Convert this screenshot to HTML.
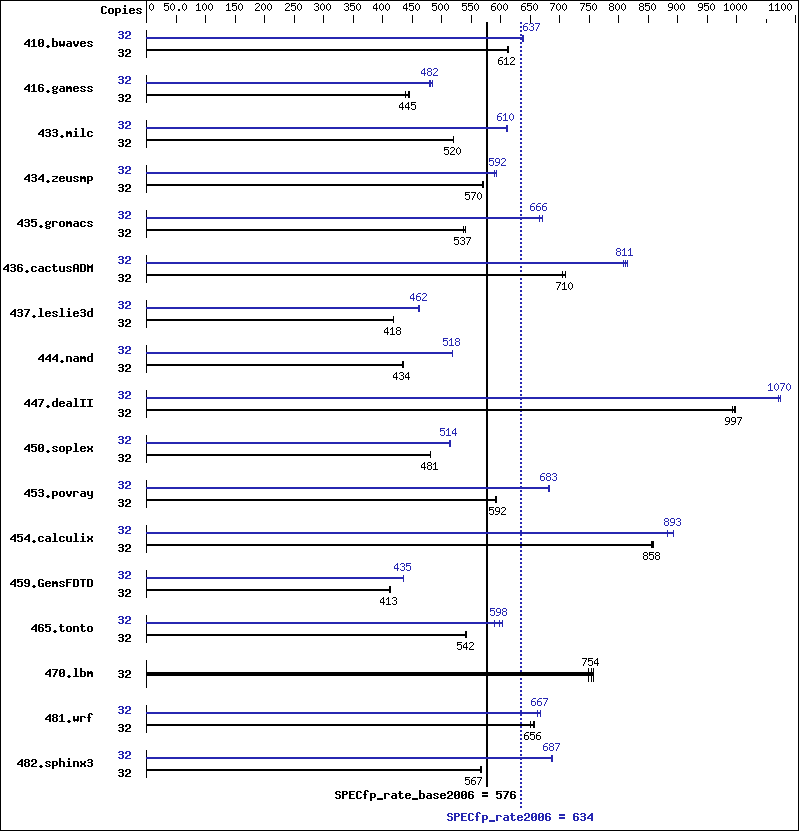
<!DOCTYPE html>
<html lang="en">
<head>
<meta charset="utf-8">
<title>SPECfp_rate2006 result chart</title>
<style>
html,body{margin:0;padding:0;background:#fff;}
body{width:799px;height:831px;overflow:hidden;font-family:"Liberation Sans",sans-serif;}
svg{display:block;position:absolute;left:0;top:0;}
.t text{fill:transparent;stroke:none;}
.s{font-family:"Liberation Sans",sans-serif;font-size:11px;}
.b{font-family:"Liberation Mono",monospace;font-size:11.67px;font-weight:bold;}
</style>
</head>
<body>
<svg width="799" height="831" viewBox="0 0 799 831" shape-rendering="crispEdges" role="img" aria-label="SPECfp_rate2006 benchmark chart">
<rect width="799" height="831" fill="#fff"/>
<defs>
<path id="s46" d="M2 9h2v1h-2zM2 10h2v1h-2z"/>
<path id="s48" d="M2 3h1v1h-1zM1 4h1v1h-1zM3 4h1v1h-1zM0 5h1v1h-1zM4 5h1v1h-1zM0 6h1v1h-1zM4 6h1v1h-1zM0 7h1v1h-1zM4 7h1v1h-1zM0 8h1v1h-1zM4 8h1v1h-1zM1 9h1v1h-1zM3 9h1v1h-1zM2 10h1v1h-1z"/>
<path id="s49" d="M2 3h1v1h-1zM1 4h2v1h-2zM0 5h1v1h-1zM2 5h1v1h-1zM2 6h1v1h-1zM2 7h1v1h-1zM2 8h1v1h-1zM2 9h1v1h-1zM0 10h5v1h-5z"/>
<path id="s50" d="M1 3h3v1h-3zM0 4h1v1h-1zM4 4h1v1h-1zM4 5h1v1h-1zM3 6h1v1h-1zM2 7h1v1h-1zM1 8h1v1h-1zM0 9h1v1h-1zM0 10h5v1h-5z"/>
<path id="s51" d="M1 3h3v1h-3zM0 4h1v1h-1zM4 4h1v1h-1zM4 5h1v1h-1zM2 6h2v1h-2zM4 7h1v1h-1zM4 8h1v1h-1zM0 9h1v1h-1zM4 9h1v1h-1zM1 10h3v1h-3z"/>
<path id="s52" d="M3 3h1v1h-1zM2 4h2v1h-2zM1 5h1v1h-1zM3 5h1v1h-1zM0 6h1v1h-1zM3 6h1v1h-1zM0 7h1v1h-1zM3 7h1v1h-1zM0 8h5v1h-5zM3 9h1v1h-1zM3 10h1v1h-1z"/>
<path id="s53" d="M0 3h5v1h-5zM0 4h1v1h-1zM0 5h4v1h-4zM0 6h1v1h-1zM4 6h1v1h-1zM4 7h1v1h-1zM4 8h1v1h-1zM0 9h1v1h-1zM4 9h1v1h-1zM1 10h3v1h-3z"/>
<path id="s54" d="M2 3h3v1h-3zM1 4h1v1h-1zM0 5h1v1h-1zM0 6h4v1h-4zM0 7h1v1h-1zM4 7h1v1h-1zM0 8h1v1h-1zM4 8h1v1h-1zM0 9h1v1h-1zM4 9h1v1h-1zM1 10h3v1h-3z"/>
<path id="s55" d="M0 3h5v1h-5zM4 4h1v1h-1zM3 5h1v1h-1zM3 6h1v1h-1zM2 7h1v1h-1zM2 8h1v1h-1zM1 9h1v1h-1zM1 10h1v1h-1z"/>
<path id="s56" d="M1 3h3v1h-3zM0 4h1v1h-1zM4 4h1v1h-1zM0 5h1v1h-1zM4 5h1v1h-1zM1 6h3v1h-3zM0 7h1v1h-1zM4 7h1v1h-1zM0 8h1v1h-1zM4 8h1v1h-1zM0 9h1v1h-1zM4 9h1v1h-1zM1 10h3v1h-3z"/>
<path id="s57" d="M1 3h3v1h-3zM0 4h1v1h-1zM4 4h1v1h-1zM0 5h1v1h-1zM4 5h1v1h-1zM0 6h1v1h-1zM4 6h1v1h-1zM1 7h4v1h-4zM4 8h1v1h-1zM3 9h1v1h-1zM0 10h3v1h-3z"/>
<path id="b46" d="M2 9h2v1h-2zM1 10h4v1h-4zM2 11h2v1h-2z"/>
<path id="b48" d="M1 3h4v1h-4zM0 4h2v1h-2zM4 4h2v1h-2zM0 5h2v1h-2zM4 5h2v1h-2zM0 6h2v1h-2zM3 6h3v1h-3zM0 7h3v1h-3zM4 7h2v1h-2zM0 8h2v1h-2zM4 8h2v1h-2zM0 9h2v1h-2zM4 9h2v1h-2zM1 10h4v1h-4z"/>
<path id="b49" d="M2 3h2v1h-2zM1 4h3v1h-3zM0 5h1v1h-1zM2 5h2v1h-2zM2 6h2v1h-2zM2 7h2v1h-2zM2 8h2v1h-2zM2 9h2v1h-2zM0 10h6v1h-6z"/>
<path id="b50" d="M1 3h4v1h-4zM0 4h2v1h-2zM4 4h2v1h-2zM0 5h2v1h-2zM4 5h2v1h-2zM4 6h2v1h-2zM2 7h3v1h-3zM1 8h2v1h-2zM0 9h2v1h-2zM0 10h6v1h-6z"/>
<path id="b51" d="M1 3h4v1h-4zM0 4h2v1h-2zM4 4h2v1h-2zM4 5h2v1h-2zM1 6h4v1h-4zM4 7h2v1h-2zM4 8h2v1h-2zM0 9h2v1h-2zM4 9h2v1h-2zM1 10h4v1h-4z"/>
<path id="b52" d="M4 3h2v1h-2zM3 4h3v1h-3zM2 5h4v1h-4zM1 6h2v1h-2zM4 6h2v1h-2zM0 7h2v1h-2zM4 7h2v1h-2zM0 8h6v1h-6zM4 9h2v1h-2zM4 10h2v1h-2z"/>
<path id="b53" d="M0 3h6v1h-6zM0 4h2v1h-2zM0 5h5v1h-5zM0 6h2v1h-2zM4 6h2v1h-2zM4 7h2v1h-2zM4 8h2v1h-2zM0 9h2v1h-2zM4 9h2v1h-2zM1 10h4v1h-4z"/>
<path id="b54" d="M1 3h4v1h-4zM0 4h2v1h-2zM4 4h2v1h-2zM0 5h2v1h-2zM0 6h5v1h-5zM0 7h2v1h-2zM4 7h2v1h-2zM0 8h2v1h-2zM4 8h2v1h-2zM0 9h2v1h-2zM4 9h2v1h-2zM1 10h4v1h-4z"/>
<path id="b55" d="M0 3h6v1h-6zM4 4h2v1h-2zM3 5h2v1h-2zM3 6h2v1h-2zM2 7h2v1h-2zM2 8h2v1h-2zM1 9h2v1h-2zM1 10h2v1h-2z"/>
<path id="b56" d="M1 3h4v1h-4zM0 4h2v1h-2zM4 4h2v1h-2zM0 5h2v1h-2zM4 5h2v1h-2zM1 6h4v1h-4zM0 7h2v1h-2zM4 7h2v1h-2zM0 8h2v1h-2zM4 8h2v1h-2zM0 9h2v1h-2zM4 9h2v1h-2zM1 10h4v1h-4z"/>
<path id="b57" d="M1 3h4v1h-4zM0 4h2v1h-2zM4 4h2v1h-2zM0 5h2v1h-2zM4 5h2v1h-2zM0 6h2v1h-2zM4 6h2v1h-2zM1 7h5v1h-5zM4 8h2v1h-2zM0 9h2v1h-2zM4 9h2v1h-2zM1 10h4v1h-4z"/>
<path id="b61" d="M0 4h6v1h-6zM0 5h6v1h-6zM0 7h6v1h-6zM0 8h6v1h-6z"/>
<path id="b65" d="M1 3h4v1h-4zM0 4h2v1h-2zM4 4h2v1h-2zM0 5h2v1h-2zM4 5h2v1h-2zM0 6h2v1h-2zM4 6h2v1h-2zM0 7h6v1h-6zM0 8h2v1h-2zM4 8h2v1h-2zM0 9h2v1h-2zM4 9h2v1h-2zM0 10h2v1h-2zM4 10h2v1h-2z"/>
<path id="b67" d="M1 3h4v1h-4zM0 4h2v1h-2zM4 4h2v1h-2zM0 5h2v1h-2zM0 6h2v1h-2zM0 7h2v1h-2zM0 8h2v1h-2zM0 9h2v1h-2zM4 9h2v1h-2zM1 10h4v1h-4z"/>
<path id="b68" d="M0 3h5v1h-5zM0 4h2v1h-2zM4 4h2v1h-2zM0 5h2v1h-2zM4 5h2v1h-2zM0 6h2v1h-2zM4 6h2v1h-2zM0 7h2v1h-2zM4 7h2v1h-2zM0 8h2v1h-2zM4 8h2v1h-2zM0 9h2v1h-2zM4 9h2v1h-2zM0 10h5v1h-5z"/>
<path id="b69" d="M0 3h6v1h-6zM0 4h2v1h-2zM0 5h2v1h-2zM0 6h5v1h-5zM0 7h2v1h-2zM0 8h2v1h-2zM0 9h2v1h-2zM0 10h6v1h-6z"/>
<path id="b70" d="M0 3h6v1h-6zM0 4h2v1h-2zM0 5h2v1h-2zM0 6h5v1h-5zM0 7h2v1h-2zM0 8h2v1h-2zM0 9h2v1h-2zM0 10h2v1h-2z"/>
<path id="b71" d="M1 3h4v1h-4zM0 4h2v1h-2zM4 4h2v1h-2zM0 5h2v1h-2zM0 6h2v1h-2zM0 7h2v1h-2zM3 7h3v1h-3zM0 8h2v1h-2zM4 8h2v1h-2zM0 9h2v1h-2zM4 9h2v1h-2zM1 10h5v1h-5z"/>
<path id="b73" d="M0 3h6v1h-6zM2 4h2v1h-2zM2 5h2v1h-2zM2 6h2v1h-2zM2 7h2v1h-2zM2 8h2v1h-2zM2 9h2v1h-2zM0 10h6v1h-6z"/>
<path id="b77" d="M0 3h1v1h-1zM5 3h1v1h-1zM0 4h2v1h-2zM4 4h2v1h-2zM0 5h6v1h-6zM0 6h6v1h-6zM0 7h2v1h-2zM4 7h2v1h-2zM0 8h2v1h-2zM4 8h2v1h-2zM0 9h2v1h-2zM4 9h2v1h-2zM0 10h2v1h-2zM4 10h2v1h-2z"/>
<path id="b80" d="M0 3h5v1h-5zM0 4h2v1h-2zM4 4h2v1h-2zM0 5h2v1h-2zM4 5h2v1h-2zM0 6h5v1h-5zM0 7h2v1h-2zM0 8h2v1h-2zM0 9h2v1h-2zM0 10h2v1h-2z"/>
<path id="b83" d="M1 3h4v1h-4zM0 4h2v1h-2zM4 4h2v1h-2zM0 5h2v1h-2zM1 6h4v1h-4zM4 7h2v1h-2zM4 8h2v1h-2zM0 9h2v1h-2zM4 9h2v1h-2zM1 10h4v1h-4z"/>
<path id="b84" d="M0 3h6v1h-6zM2 4h2v1h-2zM2 5h2v1h-2zM2 6h2v1h-2zM2 7h2v1h-2zM2 8h2v1h-2zM2 9h2v1h-2zM2 10h2v1h-2z"/>
<path id="b95" d="M0 10h6v1h-6zM0 11h6v1h-6z"/>
<path id="b97" d="M1 5h4v1h-4zM4 6h2v1h-2zM1 7h5v1h-5zM0 8h2v1h-2zM4 8h2v1h-2zM0 9h2v1h-2zM4 9h2v1h-2zM1 10h5v1h-5z"/>
<path id="b98" d="M0 2h2v1h-2zM0 3h2v1h-2zM0 4h2v1h-2zM0 5h5v1h-5zM0 6h2v1h-2zM4 6h2v1h-2zM0 7h2v1h-2zM4 7h2v1h-2zM0 8h2v1h-2zM4 8h2v1h-2zM0 9h2v1h-2zM4 9h2v1h-2zM0 10h5v1h-5z"/>
<path id="b99" d="M1 5h4v1h-4zM0 6h2v1h-2zM4 6h2v1h-2zM0 7h2v1h-2zM0 8h2v1h-2zM0 9h2v1h-2zM4 9h2v1h-2zM1 10h4v1h-4z"/>
<path id="b100" d="M4 2h2v1h-2zM4 3h2v1h-2zM4 4h2v1h-2zM1 5h5v1h-5zM0 6h2v1h-2zM4 6h2v1h-2zM0 7h2v1h-2zM4 7h2v1h-2zM0 8h2v1h-2zM4 8h2v1h-2zM0 9h2v1h-2zM4 9h2v1h-2zM1 10h5v1h-5z"/>
<path id="b101" d="M1 5h4v1h-4zM0 6h2v1h-2zM4 6h2v1h-2zM0 7h6v1h-6zM0 8h2v1h-2zM0 9h2v1h-2zM4 9h2v1h-2zM1 10h4v1h-4z"/>
<path id="b102" d="M2 2h3v1h-3zM1 3h2v1h-2zM4 3h2v1h-2zM1 4h2v1h-2zM1 5h2v1h-2zM0 6h4v1h-4zM1 7h2v1h-2zM1 8h2v1h-2zM1 9h2v1h-2zM1 10h2v1h-2z"/>
<path id="b103" d="M1 5h3v1h-3zM5 5h1v1h-1zM0 6h2v1h-2zM4 6h2v1h-2zM0 7h2v1h-2zM4 7h2v1h-2zM1 8h4v1h-4zM0 9h2v1h-2zM1 10h4v1h-4zM0 11h2v1h-2zM4 11h2v1h-2zM1 12h4v1h-4z"/>
<path id="b104" d="M0 2h2v1h-2zM0 3h2v1h-2zM0 4h2v1h-2zM0 5h5v1h-5zM0 6h2v1h-2zM4 6h2v1h-2zM0 7h2v1h-2zM4 7h2v1h-2zM0 8h2v1h-2zM4 8h2v1h-2zM0 9h2v1h-2zM4 9h2v1h-2zM0 10h2v1h-2zM4 10h2v1h-2z"/>
<path id="b105" d="M2 2h2v1h-2zM2 3h2v1h-2zM1 5h3v1h-3zM2 6h2v1h-2zM2 7h2v1h-2zM2 8h2v1h-2zM2 9h2v1h-2zM0 10h6v1h-6z"/>
<path id="b108" d="M1 2h3v1h-3zM2 3h2v1h-2zM2 4h2v1h-2zM2 5h2v1h-2zM2 6h2v1h-2zM2 7h2v1h-2zM2 8h2v1h-2zM2 9h2v1h-2zM0 10h6v1h-6z"/>
<path id="b109" d="M0 5h2v1h-2zM3 5h2v1h-2zM0 6h6v1h-6zM0 7h6v1h-6zM0 8h2v1h-2zM4 8h2v1h-2zM0 9h2v1h-2zM4 9h2v1h-2zM0 10h2v1h-2zM4 10h2v1h-2z"/>
<path id="b110" d="M0 5h5v1h-5zM0 6h2v1h-2zM4 6h2v1h-2zM0 7h2v1h-2zM4 7h2v1h-2zM0 8h2v1h-2zM4 8h2v1h-2zM0 9h2v1h-2zM4 9h2v1h-2zM0 10h2v1h-2zM4 10h2v1h-2z"/>
<path id="b111" d="M1 5h4v1h-4zM0 6h2v1h-2zM4 6h2v1h-2zM0 7h2v1h-2zM4 7h2v1h-2zM0 8h2v1h-2zM4 8h2v1h-2zM0 9h2v1h-2zM4 9h2v1h-2zM1 10h4v1h-4z"/>
<path id="b112" d="M0 5h5v1h-5zM0 6h2v1h-2zM4 6h2v1h-2zM0 7h2v1h-2zM4 7h2v1h-2zM0 8h2v1h-2zM4 8h2v1h-2zM0 9h5v1h-5zM0 10h2v1h-2zM0 11h2v1h-2zM0 12h2v1h-2z"/>
<path id="b114" d="M0 5h5v1h-5zM0 6h2v1h-2zM4 6h2v1h-2zM0 7h2v1h-2zM0 8h2v1h-2zM0 9h2v1h-2zM0 10h2v1h-2z"/>
<path id="b115" d="M1 5h4v1h-4zM0 6h2v1h-2zM4 6h2v1h-2zM1 7h2v1h-2zM3 8h2v1h-2zM0 9h2v1h-2zM4 9h2v1h-2zM1 10h4v1h-4z"/>
<path id="b116" d="M1 3h2v1h-2zM1 4h2v1h-2zM0 5h5v1h-5zM1 6h2v1h-2zM1 7h2v1h-2zM1 8h2v1h-2zM1 9h2v1h-2zM4 9h2v1h-2zM2 10h3v1h-3z"/>
<path id="b117" d="M0 5h2v1h-2zM4 5h2v1h-2zM0 6h2v1h-2zM4 6h2v1h-2zM0 7h2v1h-2zM4 7h2v1h-2zM0 8h2v1h-2zM4 8h2v1h-2zM0 9h2v1h-2zM4 9h2v1h-2zM1 10h5v1h-5z"/>
<path id="b118" d="M0 5h2v1h-2zM4 5h2v1h-2zM0 6h2v1h-2zM4 6h2v1h-2zM0 7h2v1h-2zM4 7h2v1h-2zM1 8h4v1h-4zM1 9h4v1h-4zM2 10h2v1h-2z"/>
<path id="b119" d="M0 5h2v1h-2zM4 5h2v1h-2zM0 6h2v1h-2zM4 6h2v1h-2zM0 7h2v1h-2zM4 7h2v1h-2zM0 8h6v1h-6zM0 9h6v1h-6zM1 10h1v1h-1zM4 10h1v1h-1z"/>
<path id="b120" d="M0 5h2v1h-2zM4 5h2v1h-2zM0 6h2v1h-2zM4 6h2v1h-2zM1 7h4v1h-4zM1 8h4v1h-4zM0 9h2v1h-2zM4 9h2v1h-2zM0 10h2v1h-2zM4 10h2v1h-2z"/>
<path id="b121" d="M0 5h2v1h-2zM4 5h2v1h-2zM0 6h2v1h-2zM4 6h2v1h-2zM0 7h2v1h-2zM4 7h2v1h-2zM0 8h2v1h-2zM4 8h2v1h-2zM1 9h5v1h-5zM4 10h2v1h-2zM4 11h2v1h-2zM1 12h4v1h-4z"/>
<path id="b122" d="M0 5h6v1h-6zM4 6h2v1h-2zM3 7h2v1h-2zM1 8h2v1h-2zM0 9h2v1h-2zM0 10h6v1h-6z"/>
</defs>
<!-- frame, axis and ticks -->
<path fill="#000" d="M0 0h799v1h-799zM0 830h799v1h-799zM0 0h1v831h-1zM798 0h1v831h-1zM146 1h1v22h-1zM176 15h1v8h-1zM205 15h1v8h-1zM235 15h1v8h-1zM264 15h1v8h-1zM294 15h1v8h-1zM323 15h1v8h-1zM353 15h1v8h-1zM382 15h1v8h-1zM412 15h1v8h-1zM441 15h1v8h-1zM471 15h1v8h-1zM500 15h1v8h-1zM530 15h1v8h-1zM559 15h1v8h-1zM589 15h1v8h-1zM618 15h1v8h-1zM648 15h1v8h-1zM677 15h1v8h-1zM707 15h1v8h-1zM736 15h1v8h-1zM766 19h1v4h-1zM795 15h1v8h-1zM146 30h1v28h-1zM146 75h1v28h-1zM146 120h1v28h-1zM146 165h1v28h-1zM146 210h1v28h-1zM146 255h1v28h-1zM146 300h1v28h-1zM146 345h1v28h-1zM146 390h1v28h-1zM146 435h1v28h-1zM146 480h1v28h-1zM146 525h1v28h-1zM146 570h1v28h-1zM146 615h1v28h-1zM146 660h1v28h-1zM146 705h1v28h-1zM146 750h1v28h-1z"/>
<!-- reference lines: base (solid) and peak (dotted) -->
<path fill="#000" d="M486 22h2v765h-2z"/>
<path fill="#2727b1" d="M520 22h2v2h-2zM520 26h2v2h-2zM520 30h2v2h-2zM520 34h2v2h-2zM520 38h2v2h-2zM520 42h2v2h-2zM520 46h2v2h-2zM520 50h2v2h-2zM520 54h2v2h-2zM520 58h2v2h-2zM520 62h2v2h-2zM520 66h2v2h-2zM520 70h2v2h-2zM520 74h2v2h-2zM520 78h2v2h-2zM520 82h2v2h-2zM520 86h2v2h-2zM520 90h2v2h-2zM520 94h2v2h-2zM520 98h2v2h-2zM520 102h2v2h-2zM520 106h2v2h-2zM520 110h2v2h-2zM520 114h2v2h-2zM520 118h2v2h-2zM520 122h2v2h-2zM520 126h2v2h-2zM520 130h2v2h-2zM520 134h2v2h-2zM520 138h2v2h-2zM520 142h2v2h-2zM520 146h2v2h-2zM520 150h2v2h-2zM520 154h2v2h-2zM520 158h2v2h-2zM520 162h2v2h-2zM520 166h2v2h-2zM520 170h2v2h-2zM520 174h2v2h-2zM520 178h2v2h-2zM520 182h2v2h-2zM520 186h2v2h-2zM520 190h2v2h-2zM520 194h2v2h-2zM520 198h2v2h-2zM520 202h2v2h-2zM520 206h2v2h-2zM520 210h2v2h-2zM520 214h2v2h-2zM520 218h2v2h-2zM520 222h2v2h-2zM520 226h2v2h-2zM520 230h2v2h-2zM520 234h2v2h-2zM520 238h2v2h-2zM520 242h2v2h-2zM520 246h2v2h-2zM520 250h2v2h-2zM520 254h2v2h-2zM520 258h2v2h-2zM520 262h2v2h-2zM520 266h2v2h-2zM520 270h2v2h-2zM520 274h2v2h-2zM520 278h2v2h-2zM520 282h2v2h-2zM520 286h2v2h-2zM520 290h2v2h-2zM520 294h2v2h-2zM520 298h2v2h-2zM520 302h2v2h-2zM520 306h2v2h-2zM520 310h2v2h-2zM520 314h2v2h-2zM520 318h2v2h-2zM520 322h2v2h-2zM520 326h2v2h-2zM520 330h2v2h-2zM520 334h2v2h-2zM520 338h2v2h-2zM520 342h2v2h-2zM520 346h2v2h-2zM520 350h2v2h-2zM520 354h2v2h-2zM520 358h2v2h-2zM520 362h2v2h-2zM520 366h2v2h-2zM520 370h2v2h-2zM520 374h2v2h-2zM520 378h2v2h-2zM520 382h2v2h-2zM520 386h2v2h-2zM520 390h2v2h-2zM520 394h2v2h-2zM520 398h2v2h-2zM520 402h2v2h-2zM520 406h2v2h-2zM520 410h2v2h-2zM520 414h2v2h-2zM520 418h2v2h-2zM520 422h2v2h-2zM520 426h2v2h-2zM520 430h2v2h-2zM520 434h2v2h-2zM520 438h2v2h-2zM520 442h2v2h-2zM520 446h2v2h-2zM520 450h2v2h-2zM520 454h2v2h-2zM520 458h2v2h-2zM520 462h2v2h-2zM520 466h2v2h-2zM520 470h2v2h-2zM520 474h2v2h-2zM520 478h2v2h-2zM520 482h2v2h-2zM520 486h2v2h-2zM520 490h2v2h-2zM520 494h2v2h-2zM520 498h2v2h-2zM520 502h2v2h-2zM520 506h2v2h-2zM520 510h2v2h-2zM520 514h2v2h-2zM520 518h2v2h-2zM520 522h2v2h-2zM520 526h2v2h-2zM520 530h2v2h-2zM520 534h2v2h-2zM520 538h2v2h-2zM520 542h2v2h-2zM520 546h2v2h-2zM520 550h2v2h-2zM520 554h2v2h-2zM520 558h2v2h-2zM520 562h2v2h-2zM520 566h2v2h-2zM520 570h2v2h-2zM520 574h2v2h-2zM520 578h2v2h-2zM520 582h2v2h-2zM520 586h2v2h-2zM520 590h2v2h-2zM520 594h2v2h-2zM520 598h2v2h-2zM520 602h2v2h-2zM520 606h2v2h-2zM520 610h2v2h-2zM520 614h2v2h-2zM520 618h2v2h-2zM520 622h2v2h-2zM520 626h2v2h-2zM520 630h2v2h-2zM520 634h2v2h-2zM520 638h2v2h-2zM520 642h2v2h-2zM520 646h2v2h-2zM520 650h2v2h-2zM520 654h2v2h-2zM520 658h2v2h-2zM520 662h2v2h-2zM520 666h2v2h-2zM520 670h2v2h-2zM520 674h2v2h-2zM520 678h2v2h-2zM520 682h2v2h-2zM520 686h2v2h-2zM520 690h2v2h-2zM520 694h2v2h-2zM520 698h2v2h-2zM520 702h2v2h-2zM520 706h2v2h-2zM520 710h2v2h-2zM520 714h2v2h-2zM520 718h2v2h-2zM520 722h2v2h-2zM520 726h2v2h-2zM520 730h2v2h-2zM520 734h2v2h-2zM520 738h2v2h-2zM520 742h2v2h-2zM520 746h2v2h-2zM520 750h2v2h-2zM520 754h2v2h-2zM520 758h2v2h-2zM520 762h2v2h-2zM520 766h2v2h-2zM520 770h2v2h-2zM520 774h2v2h-2zM520 778h2v2h-2zM520 782h2v2h-2zM520 786h2v2h-2zM520 790h2v2h-2zM520 794h2v2h-2zM520 798h2v2h-2zM520 802h2v2h-2zM520 806h2v2h-2z"/>
<!-- bars and whiskers -->
<path fill="#2727b1" d="M146 37h378v2h-378zM522 35h1v7h-1zM523 35h1v7h-1z"/>
<path fill="#000" d="M146 49h363v2h-363zM507 46h1v7h-1zM508 46h1v7h-1z"/>
<path fill="#2727b1" d="M146 82h287v2h-287zM429 80h1v7h-1zM430 80h1v7h-1zM432 80h1v7h-1z"/>
<path fill="#000" d="M146 94h264v2h-264zM405 91h1v7h-1zM408 91h1v7h-1zM409 91h1v7h-1z"/>
<path fill="#2727b1" d="M146 127h362v2h-362zM506 125h1v7h-1zM507 125h1v7h-1z"/>
<path fill="#000" d="M146 139h308v2h-308zM453 136h1v7h-1z"/>
<path fill="#2727b1" d="M146 172h351v2h-351zM494 170h1v7h-1zM496 170h1v7h-1z"/>
<path fill="#000" d="M146 184h338v2h-338zM482 181h1v7h-1zM483 181h1v7h-1z"/>
<path fill="#2727b1" d="M146 217h397v2h-397zM539 215h1v7h-1zM542 215h1v7h-1z"/>
<path fill="#000" d="M146 229h320v2h-320zM463 226h1v7h-1zM465 226h1v7h-1z"/>
<path fill="#2727b1" d="M146 262h482v2h-482zM623 260h1v7h-1zM625 260h1v7h-1zM627 260h1v7h-1z"/>
<path fill="#000" d="M146 274h420v2h-420zM562 271h1v7h-1zM565 271h1v7h-1z"/>
<path fill="#2727b1" d="M146 307h274v2h-274zM418 305h1v7h-1zM419 305h1v7h-1z"/>
<path fill="#000" d="M146 319h248v2h-248zM393 316h1v7h-1z"/>
<path fill="#2727b1" d="M146 352h307v2h-307zM452 350h1v7h-1z"/>
<path fill="#000" d="M146 364h258v2h-258zM402 361h1v7h-1zM403 361h1v7h-1z"/>
<path fill="#2727b1" d="M146 397h635v2h-635zM778 395h1v7h-1zM780 395h1v7h-1z"/>
<path fill="#000" d="M146 409h590v2h-590zM732 406h1v7h-1zM734 406h1v7h-1zM735 406h1v7h-1z"/>
<path fill="#2727b1" d="M146 442h305v2h-305zM449 440h1v7h-1zM450 440h1v7h-1z"/>
<path fill="#000" d="M146 454h285v2h-285zM430 451h1v7h-1z"/>
<path fill="#2727b1" d="M146 487h404v2h-404zM548 485h1v7h-1zM549 485h1v7h-1z"/>
<path fill="#000" d="M146 499h351v2h-351zM495 496h1v7h-1zM496 496h1v7h-1z"/>
<path fill="#2727b1" d="M146 532h528v2h-528zM667 530h1v7h-1zM673 530h1v7h-1z"/>
<path fill="#000" d="M146 544h508v2h-508zM651 541h1v7h-1zM652 541h1v7h-1zM653 541h1v7h-1z"/>
<path fill="#2727b1" d="M146 577h258v2h-258zM403 575h1v7h-1z"/>
<path fill="#000" d="M146 589h245v2h-245zM389 586h1v7h-1zM390 586h1v7h-1z"/>
<path fill="#2727b1" d="M146 622h357v2h-357zM494 620h1v7h-1zM499 620h1v7h-1zM502 620h1v7h-1z"/>
<path fill="#000" d="M146 634h321v2h-321zM465 631h1v7h-1zM466 631h1v7h-1zM146 672h448v4h-448zM588 668h1v14h-1zM591 668h1v14h-1zM593 668h1v14h-1z"/>
<path fill="#2727b1" d="M146 712h395v2h-395zM537 710h1v7h-1zM540 710h1v7h-1z"/>
<path fill="#000" d="M146 724h389v2h-389zM530 721h1v7h-1zM533 721h1v7h-1zM534 721h1v7h-1z"/>
<path fill="#2727b1" d="M146 757h407v2h-407zM551 755h1v7h-1zM552 755h1v7h-1z"/>
<path fill="#000" d="M146 769h336v2h-336zM480 766h1v7h-1zM481 766h1v7h-1z"/>
<!-- bitmap-font glyphs -->
<g fill="#000">
<use href="#s53" x="164" y="0"/>
<use href="#s48" x="170" y="0"/>
<use href="#s46" x="176" y="0"/>
<use href="#s48" x="182" y="0"/>
<use href="#s49" x="196" y="0"/>
<use href="#s48" x="202" y="0"/>
<use href="#s48" x="208" y="0"/>
<use href="#s49" x="226" y="0"/>
<use href="#s53" x="232" y="0"/>
<use href="#s48" x="238" y="0"/>
<use href="#s50" x="255" y="0"/>
<use href="#s48" x="261" y="0"/>
<use href="#s48" x="267" y="0"/>
<use href="#s50" x="285" y="0"/>
<use href="#s53" x="291" y="0"/>
<use href="#s48" x="297" y="0"/>
<use href="#s51" x="314" y="0"/>
<use href="#s48" x="320" y="0"/>
<use href="#s48" x="326" y="0"/>
<use href="#s51" x="344" y="0"/>
<use href="#s53" x="350" y="0"/>
<use href="#s48" x="356" y="0"/>
<use href="#s52" x="373" y="0"/>
<use href="#s48" x="379" y="0"/>
<use href="#s48" x="385" y="0"/>
<use href="#s52" x="403" y="0"/>
<use href="#s53" x="409" y="0"/>
<use href="#s48" x="415" y="0"/>
<use href="#s53" x="432" y="0"/>
<use href="#s48" x="438" y="0"/>
<use href="#s48" x="444" y="0"/>
<use href="#s53" x="462" y="0"/>
<use href="#s53" x="468" y="0"/>
<use href="#s48" x="474" y="0"/>
<use href="#s54" x="491" y="0"/>
<use href="#s48" x="497" y="0"/>
<use href="#s48" x="503" y="0"/>
<use href="#s54" x="521" y="0"/>
<use href="#s53" x="527" y="0"/>
<use href="#s48" x="533" y="0"/>
<use href="#s55" x="550" y="0"/>
<use href="#s48" x="556" y="0"/>
<use href="#s48" x="562" y="0"/>
<use href="#s55" x="580" y="0"/>
<use href="#s53" x="586" y="0"/>
<use href="#s48" x="592" y="0"/>
<use href="#s56" x="609" y="0"/>
<use href="#s48" x="615" y="0"/>
<use href="#s48" x="621" y="0"/>
<use href="#s56" x="639" y="0"/>
<use href="#s53" x="645" y="0"/>
<use href="#s48" x="651" y="0"/>
<use href="#s57" x="668" y="0"/>
<use href="#s48" x="674" y="0"/>
<use href="#s48" x="680" y="0"/>
<use href="#s57" x="698" y="0"/>
<use href="#s53" x="704" y="0"/>
<use href="#s48" x="710" y="0"/>
<use href="#s49" x="724" y="0"/>
<use href="#s48" x="730" y="0"/>
<use href="#s48" x="736" y="0"/>
<use href="#s48" x="742" y="0"/>
<use href="#s49" x="769" y="0"/>
<use href="#s49" x="775" y="0"/>
<use href="#s48" x="781" y="0"/>
<use href="#s48" x="787" y="0"/>
<use href="#s48" x="149" y="0"/>
<use href="#b67" x="101" y="3"/>
<use href="#b111" x="108" y="3"/>
<use href="#b112" x="115" y="3"/>
<use href="#b105" x="122" y="3"/>
<use href="#b101" x="129" y="3"/>
<use href="#b115" x="136" y="3"/>
<use href="#b52" x="24" y="36"/>
<use href="#b49" x="31" y="36"/>
<use href="#b48" x="38" y="36"/>
<use href="#b46" x="45" y="36"/>
<use href="#b98" x="52" y="36"/>
<use href="#b119" x="59" y="36"/>
<use href="#b97" x="66" y="36"/>
<use href="#b118" x="73" y="36"/>
<use href="#b101" x="80" y="36"/>
<use href="#b115" x="87" y="36"/>
<use href="#b51" x="118" y="46"/>
<use href="#b50" x="125" y="46"/>
<use href="#s54" x="498" y="54"/>
<use href="#s49" x="504" y="54"/>
<use href="#s50" x="510" y="54"/>
<use href="#b52" x="24" y="81"/>
<use href="#b49" x="31" y="81"/>
<use href="#b54" x="38" y="81"/>
<use href="#b46" x="45" y="81"/>
<use href="#b103" x="52" y="81"/>
<use href="#b97" x="59" y="81"/>
<use href="#b109" x="66" y="81"/>
<use href="#b101" x="73" y="81"/>
<use href="#b115" x="80" y="81"/>
<use href="#b115" x="87" y="81"/>
<use href="#b51" x="118" y="91"/>
<use href="#b50" x="125" y="91"/>
<use href="#s52" x="399" y="99"/>
<use href="#s52" x="405" y="99"/>
<use href="#s53" x="411" y="99"/>
<use href="#b52" x="38" y="126"/>
<use href="#b51" x="45" y="126"/>
<use href="#b51" x="52" y="126"/>
<use href="#b46" x="59" y="126"/>
<use href="#b109" x="66" y="126"/>
<use href="#b105" x="73" y="126"/>
<use href="#b108" x="80" y="126"/>
<use href="#b99" x="87" y="126"/>
<use href="#b51" x="118" y="136"/>
<use href="#b50" x="125" y="136"/>
<use href="#s53" x="444" y="144"/>
<use href="#s50" x="450" y="144"/>
<use href="#s48" x="456" y="144"/>
<use href="#b52" x="24" y="171"/>
<use href="#b51" x="31" y="171"/>
<use href="#b52" x="38" y="171"/>
<use href="#b46" x="45" y="171"/>
<use href="#b122" x="52" y="171"/>
<use href="#b101" x="59" y="171"/>
<use href="#b117" x="66" y="171"/>
<use href="#b115" x="73" y="171"/>
<use href="#b109" x="80" y="171"/>
<use href="#b112" x="87" y="171"/>
<use href="#b51" x="118" y="181"/>
<use href="#b50" x="125" y="181"/>
<use href="#s53" x="465" y="189"/>
<use href="#s55" x="471" y="189"/>
<use href="#s48" x="477" y="189"/>
<use href="#b52" x="17" y="216"/>
<use href="#b51" x="24" y="216"/>
<use href="#b53" x="31" y="216"/>
<use href="#b46" x="38" y="216"/>
<use href="#b103" x="45" y="216"/>
<use href="#b114" x="52" y="216"/>
<use href="#b111" x="59" y="216"/>
<use href="#b109" x="66" y="216"/>
<use href="#b97" x="73" y="216"/>
<use href="#b99" x="80" y="216"/>
<use href="#b115" x="87" y="216"/>
<use href="#b51" x="118" y="226"/>
<use href="#b50" x="125" y="226"/>
<use href="#s53" x="454" y="234"/>
<use href="#s51" x="460" y="234"/>
<use href="#s55" x="466" y="234"/>
<use href="#b52" x="3" y="261"/>
<use href="#b51" x="10" y="261"/>
<use href="#b54" x="17" y="261"/>
<use href="#b46" x="24" y="261"/>
<use href="#b99" x="31" y="261"/>
<use href="#b97" x="38" y="261"/>
<use href="#b99" x="45" y="261"/>
<use href="#b116" x="52" y="261"/>
<use href="#b117" x="59" y="261"/>
<use href="#b115" x="66" y="261"/>
<use href="#b65" x="73" y="261"/>
<use href="#b68" x="80" y="261"/>
<use href="#b77" x="87" y="261"/>
<use href="#b51" x="118" y="271"/>
<use href="#b50" x="125" y="271"/>
<use href="#s55" x="556" y="279"/>
<use href="#s49" x="562" y="279"/>
<use href="#s48" x="568" y="279"/>
<use href="#b52" x="10" y="306"/>
<use href="#b51" x="17" y="306"/>
<use href="#b55" x="24" y="306"/>
<use href="#b46" x="31" y="306"/>
<use href="#b108" x="38" y="306"/>
<use href="#b101" x="45" y="306"/>
<use href="#b115" x="52" y="306"/>
<use href="#b108" x="59" y="306"/>
<use href="#b105" x="66" y="306"/>
<use href="#b101" x="73" y="306"/>
<use href="#b51" x="80" y="306"/>
<use href="#b100" x="87" y="306"/>
<use href="#b51" x="118" y="316"/>
<use href="#b50" x="125" y="316"/>
<use href="#s52" x="384" y="324"/>
<use href="#s49" x="390" y="324"/>
<use href="#s56" x="396" y="324"/>
<use href="#b52" x="38" y="351"/>
<use href="#b52" x="45" y="351"/>
<use href="#b52" x="52" y="351"/>
<use href="#b46" x="59" y="351"/>
<use href="#b110" x="66" y="351"/>
<use href="#b97" x="73" y="351"/>
<use href="#b109" x="80" y="351"/>
<use href="#b100" x="87" y="351"/>
<use href="#b51" x="118" y="361"/>
<use href="#b50" x="125" y="361"/>
<use href="#s52" x="393" y="369"/>
<use href="#s51" x="399" y="369"/>
<use href="#s52" x="405" y="369"/>
<use href="#b52" x="24" y="396"/>
<use href="#b52" x="31" y="396"/>
<use href="#b55" x="38" y="396"/>
<use href="#b46" x="45" y="396"/>
<use href="#b100" x="52" y="396"/>
<use href="#b101" x="59" y="396"/>
<use href="#b97" x="66" y="396"/>
<use href="#b108" x="73" y="396"/>
<use href="#b73" x="80" y="396"/>
<use href="#b73" x="87" y="396"/>
<use href="#b51" x="118" y="406"/>
<use href="#b50" x="125" y="406"/>
<use href="#s57" x="725" y="414"/>
<use href="#s57" x="731" y="414"/>
<use href="#s55" x="737" y="414"/>
<use href="#b52" x="24" y="441"/>
<use href="#b53" x="31" y="441"/>
<use href="#b48" x="38" y="441"/>
<use href="#b46" x="45" y="441"/>
<use href="#b115" x="52" y="441"/>
<use href="#b111" x="59" y="441"/>
<use href="#b112" x="66" y="441"/>
<use href="#b108" x="73" y="441"/>
<use href="#b101" x="80" y="441"/>
<use href="#b120" x="87" y="441"/>
<use href="#b51" x="118" y="451"/>
<use href="#b50" x="125" y="451"/>
<use href="#s52" x="421" y="459"/>
<use href="#s56" x="427" y="459"/>
<use href="#s49" x="433" y="459"/>
<use href="#b52" x="24" y="486"/>
<use href="#b53" x="31" y="486"/>
<use href="#b51" x="38" y="486"/>
<use href="#b46" x="45" y="486"/>
<use href="#b112" x="52" y="486"/>
<use href="#b111" x="59" y="486"/>
<use href="#b118" x="66" y="486"/>
<use href="#b114" x="73" y="486"/>
<use href="#b97" x="80" y="486"/>
<use href="#b121" x="87" y="486"/>
<use href="#b51" x="118" y="496"/>
<use href="#b50" x="125" y="496"/>
<use href="#s53" x="489" y="504"/>
<use href="#s57" x="495" y="504"/>
<use href="#s50" x="501" y="504"/>
<use href="#b52" x="10" y="531"/>
<use href="#b53" x="17" y="531"/>
<use href="#b52" x="24" y="531"/>
<use href="#b46" x="31" y="531"/>
<use href="#b99" x="38" y="531"/>
<use href="#b97" x="45" y="531"/>
<use href="#b108" x="52" y="531"/>
<use href="#b99" x="59" y="531"/>
<use href="#b117" x="66" y="531"/>
<use href="#b108" x="73" y="531"/>
<use href="#b105" x="80" y="531"/>
<use href="#b120" x="87" y="531"/>
<use href="#b51" x="118" y="541"/>
<use href="#b50" x="125" y="541"/>
<use href="#s56" x="643" y="549"/>
<use href="#s53" x="649" y="549"/>
<use href="#s56" x="655" y="549"/>
<use href="#b52" x="10" y="576"/>
<use href="#b53" x="17" y="576"/>
<use href="#b57" x="24" y="576"/>
<use href="#b46" x="31" y="576"/>
<use href="#b71" x="38" y="576"/>
<use href="#b101" x="45" y="576"/>
<use href="#b109" x="52" y="576"/>
<use href="#b115" x="59" y="576"/>
<use href="#b70" x="66" y="576"/>
<use href="#b68" x="73" y="576"/>
<use href="#b84" x="80" y="576"/>
<use href="#b68" x="87" y="576"/>
<use href="#b51" x="118" y="586"/>
<use href="#b50" x="125" y="586"/>
<use href="#s52" x="380" y="594"/>
<use href="#s49" x="386" y="594"/>
<use href="#s51" x="392" y="594"/>
<use href="#b52" x="31" y="621"/>
<use href="#b54" x="38" y="621"/>
<use href="#b53" x="45" y="621"/>
<use href="#b46" x="52" y="621"/>
<use href="#b116" x="59" y="621"/>
<use href="#b111" x="66" y="621"/>
<use href="#b110" x="73" y="621"/>
<use href="#b116" x="80" y="621"/>
<use href="#b111" x="87" y="621"/>
<use href="#b51" x="118" y="631"/>
<use href="#b50" x="125" y="631"/>
<use href="#s53" x="457" y="639"/>
<use href="#s52" x="463" y="639"/>
<use href="#s50" x="469" y="639"/>
<use href="#b52" x="45" y="666"/>
<use href="#b55" x="52" y="666"/>
<use href="#b48" x="59" y="666"/>
<use href="#b46" x="66" y="666"/>
<use href="#b108" x="73" y="666"/>
<use href="#b98" x="80" y="666"/>
<use href="#b109" x="87" y="666"/>
<use href="#b51" x="118" y="667"/>
<use href="#b50" x="125" y="667"/>
<use href="#s55" x="582" y="655"/>
<use href="#s53" x="588" y="655"/>
<use href="#s52" x="594" y="655"/>
<use href="#b52" x="45" y="711"/>
<use href="#b56" x="52" y="711"/>
<use href="#b49" x="59" y="711"/>
<use href="#b46" x="66" y="711"/>
<use href="#b119" x="73" y="711"/>
<use href="#b114" x="80" y="711"/>
<use href="#b102" x="87" y="711"/>
<use href="#b51" x="118" y="721"/>
<use href="#b50" x="125" y="721"/>
<use href="#s54" x="524" y="729"/>
<use href="#s53" x="530" y="729"/>
<use href="#s54" x="536" y="729"/>
<use href="#b52" x="17" y="756"/>
<use href="#b56" x="24" y="756"/>
<use href="#b50" x="31" y="756"/>
<use href="#b46" x="38" y="756"/>
<use href="#b115" x="45" y="756"/>
<use href="#b112" x="52" y="756"/>
<use href="#b104" x="59" y="756"/>
<use href="#b105" x="66" y="756"/>
<use href="#b110" x="73" y="756"/>
<use href="#b120" x="80" y="756"/>
<use href="#b51" x="87" y="756"/>
<use href="#b51" x="118" y="766"/>
<use href="#b50" x="125" y="766"/>
<use href="#s53" x="465" y="774"/>
<use href="#s54" x="471" y="774"/>
<use href="#s55" x="477" y="774"/>
<use href="#b83" x="335" y="788"/>
<use href="#b80" x="342" y="788"/>
<use href="#b69" x="349" y="788"/>
<use href="#b67" x="356" y="788"/>
<use href="#b102" x="363" y="788"/>
<use href="#b112" x="370" y="788"/>
<use href="#b95" x="377" y="788"/>
<use href="#b114" x="384" y="788"/>
<use href="#b97" x="391" y="788"/>
<use href="#b116" x="398" y="788"/>
<use href="#b101" x="405" y="788"/>
<use href="#b95" x="412" y="788"/>
<use href="#b98" x="419" y="788"/>
<use href="#b97" x="426" y="788"/>
<use href="#b115" x="433" y="788"/>
<use href="#b101" x="440" y="788"/>
<use href="#b50" x="447" y="788"/>
<use href="#b48" x="454" y="788"/>
<use href="#b48" x="461" y="788"/>
<use href="#b54" x="468" y="788"/>
<use href="#b61" x="482" y="788"/>
<use href="#b53" x="496" y="788"/>
<use href="#b55" x="503" y="788"/>
<use href="#b54" x="510" y="788"/>
</g>
<g fill="#2727b1">
<use href="#b51" x="118" y="28"/>
<use href="#b50" x="125" y="28"/>
<use href="#s54" x="523" y="20"/>
<use href="#s51" x="529" y="20"/>
<use href="#s55" x="535" y="20"/>
<use href="#b51" x="118" y="73"/>
<use href="#b50" x="125" y="73"/>
<use href="#s52" x="421" y="65"/>
<use href="#s56" x="427" y="65"/>
<use href="#s50" x="433" y="65"/>
<use href="#b51" x="118" y="118"/>
<use href="#b50" x="125" y="118"/>
<use href="#s54" x="497" y="110"/>
<use href="#s49" x="503" y="110"/>
<use href="#s48" x="509" y="110"/>
<use href="#b51" x="118" y="163"/>
<use href="#b50" x="125" y="163"/>
<use href="#s53" x="489" y="155"/>
<use href="#s57" x="495" y="155"/>
<use href="#s50" x="501" y="155"/>
<use href="#b51" x="118" y="208"/>
<use href="#b50" x="125" y="208"/>
<use href="#s54" x="530" y="200"/>
<use href="#s54" x="536" y="200"/>
<use href="#s54" x="542" y="200"/>
<use href="#b51" x="118" y="253"/>
<use href="#b50" x="125" y="253"/>
<use href="#s56" x="616" y="245"/>
<use href="#s49" x="622" y="245"/>
<use href="#s49" x="628" y="245"/>
<use href="#b51" x="118" y="298"/>
<use href="#b50" x="125" y="298"/>
<use href="#s52" x="410" y="290"/>
<use href="#s54" x="416" y="290"/>
<use href="#s50" x="422" y="290"/>
<use href="#b51" x="118" y="343"/>
<use href="#b50" x="125" y="343"/>
<use href="#s53" x="443" y="335"/>
<use href="#s49" x="449" y="335"/>
<use href="#s56" x="455" y="335"/>
<use href="#b51" x="118" y="388"/>
<use href="#b50" x="125" y="388"/>
<use href="#s49" x="768" y="380"/>
<use href="#s48" x="774" y="380"/>
<use href="#s55" x="780" y="380"/>
<use href="#s48" x="786" y="380"/>
<use href="#b51" x="118" y="433"/>
<use href="#b50" x="125" y="433"/>
<use href="#s53" x="440" y="425"/>
<use href="#s49" x="446" y="425"/>
<use href="#s52" x="452" y="425"/>
<use href="#b51" x="118" y="478"/>
<use href="#b50" x="125" y="478"/>
<use href="#s54" x="540" y="470"/>
<use href="#s56" x="546" y="470"/>
<use href="#s51" x="552" y="470"/>
<use href="#b51" x="118" y="523"/>
<use href="#b50" x="125" y="523"/>
<use href="#s56" x="664" y="515"/>
<use href="#s57" x="670" y="515"/>
<use href="#s51" x="676" y="515"/>
<use href="#b51" x="118" y="568"/>
<use href="#b50" x="125" y="568"/>
<use href="#s52" x="394" y="560"/>
<use href="#s51" x="400" y="560"/>
<use href="#s53" x="406" y="560"/>
<use href="#b51" x="118" y="613"/>
<use href="#b50" x="125" y="613"/>
<use href="#s53" x="490" y="605"/>
<use href="#s57" x="496" y="605"/>
<use href="#s56" x="502" y="605"/>
<use href="#b51" x="118" y="703"/>
<use href="#b50" x="125" y="703"/>
<use href="#s54" x="531" y="695"/>
<use href="#s54" x="537" y="695"/>
<use href="#s55" x="543" y="695"/>
<use href="#b51" x="118" y="748"/>
<use href="#b50" x="125" y="748"/>
<use href="#s54" x="543" y="740"/>
<use href="#s56" x="549" y="740"/>
<use href="#s55" x="555" y="740"/>
<use href="#b83" x="447" y="810"/>
<use href="#b80" x="454" y="810"/>
<use href="#b69" x="461" y="810"/>
<use href="#b67" x="468" y="810"/>
<use href="#b102" x="475" y="810"/>
<use href="#b112" x="482" y="810"/>
<use href="#b95" x="489" y="810"/>
<use href="#b114" x="496" y="810"/>
<use href="#b97" x="503" y="810"/>
<use href="#b116" x="510" y="810"/>
<use href="#b101" x="517" y="810"/>
<use href="#b50" x="524" y="810"/>
<use href="#b48" x="531" y="810"/>
<use href="#b48" x="538" y="810"/>
<use href="#b54" x="545" y="810"/>
<use href="#b61" x="559" y="810"/>
<use href="#b54" x="573" y="810"/>
<use href="#b51" x="580" y="810"/>
<use href="#b52" x="587" y="810"/>
</g>
<!-- selectable text layer -->
<g class="t">
<text class="s" x="164" y="11" textLength="24" lengthAdjust="spacingAndGlyphs">50.0</text>
<text class="s" x="196" y="11" textLength="18" lengthAdjust="spacingAndGlyphs">100</text>
<text class="s" x="226" y="11" textLength="18" lengthAdjust="spacingAndGlyphs">150</text>
<text class="s" x="255" y="11" textLength="18" lengthAdjust="spacingAndGlyphs">200</text>
<text class="s" x="285" y="11" textLength="18" lengthAdjust="spacingAndGlyphs">250</text>
<text class="s" x="314" y="11" textLength="18" lengthAdjust="spacingAndGlyphs">300</text>
<text class="s" x="344" y="11" textLength="18" lengthAdjust="spacingAndGlyphs">350</text>
<text class="s" x="373" y="11" textLength="18" lengthAdjust="spacingAndGlyphs">400</text>
<text class="s" x="403" y="11" textLength="18" lengthAdjust="spacingAndGlyphs">450</text>
<text class="s" x="432" y="11" textLength="18" lengthAdjust="spacingAndGlyphs">500</text>
<text class="s" x="462" y="11" textLength="18" lengthAdjust="spacingAndGlyphs">550</text>
<text class="s" x="491" y="11" textLength="18" lengthAdjust="spacingAndGlyphs">600</text>
<text class="s" x="521" y="11" textLength="18" lengthAdjust="spacingAndGlyphs">650</text>
<text class="s" x="550" y="11" textLength="18" lengthAdjust="spacingAndGlyphs">700</text>
<text class="s" x="580" y="11" textLength="18" lengthAdjust="spacingAndGlyphs">750</text>
<text class="s" x="609" y="11" textLength="18" lengthAdjust="spacingAndGlyphs">800</text>
<text class="s" x="639" y="11" textLength="18" lengthAdjust="spacingAndGlyphs">850</text>
<text class="s" x="668" y="11" textLength="18" lengthAdjust="spacingAndGlyphs">900</text>
<text class="s" x="698" y="11" textLength="18" lengthAdjust="spacingAndGlyphs">950</text>
<text class="s" x="724" y="11" textLength="24" lengthAdjust="spacingAndGlyphs">1000</text>
<text class="s" x="769" y="11" textLength="24" lengthAdjust="spacingAndGlyphs">1100</text>
<text class="s" x="149" y="11" textLength="6" lengthAdjust="spacingAndGlyphs">0</text>
<text class="b" x="101" y="14" textLength="42" lengthAdjust="spacingAndGlyphs">Copies</text>
<text class="b" x="24" y="47" textLength="70" lengthAdjust="spacingAndGlyphs">410.bwaves</text>
<text class="b" x="118" y="39" textLength="14" lengthAdjust="spacingAndGlyphs">32</text>
<text class="s" x="523" y="31" textLength="18" lengthAdjust="spacingAndGlyphs">637</text>
<text class="b" x="118" y="57" textLength="14" lengthAdjust="spacingAndGlyphs">32</text>
<text class="s" x="498" y="65" textLength="18" lengthAdjust="spacingAndGlyphs">612</text>
<text class="b" x="24" y="92" textLength="70" lengthAdjust="spacingAndGlyphs">416.gamess</text>
<text class="b" x="118" y="84" textLength="14" lengthAdjust="spacingAndGlyphs">32</text>
<text class="s" x="421" y="76" textLength="18" lengthAdjust="spacingAndGlyphs">482</text>
<text class="b" x="118" y="102" textLength="14" lengthAdjust="spacingAndGlyphs">32</text>
<text class="s" x="399" y="110" textLength="18" lengthAdjust="spacingAndGlyphs">445</text>
<text class="b" x="38" y="137" textLength="56" lengthAdjust="spacingAndGlyphs">433.milc</text>
<text class="b" x="118" y="129" textLength="14" lengthAdjust="spacingAndGlyphs">32</text>
<text class="s" x="497" y="121" textLength="18" lengthAdjust="spacingAndGlyphs">610</text>
<text class="b" x="118" y="147" textLength="14" lengthAdjust="spacingAndGlyphs">32</text>
<text class="s" x="444" y="155" textLength="18" lengthAdjust="spacingAndGlyphs">520</text>
<text class="b" x="24" y="182" textLength="70" lengthAdjust="spacingAndGlyphs">434.zeusmp</text>
<text class="b" x="118" y="174" textLength="14" lengthAdjust="spacingAndGlyphs">32</text>
<text class="s" x="489" y="166" textLength="18" lengthAdjust="spacingAndGlyphs">592</text>
<text class="b" x="118" y="192" textLength="14" lengthAdjust="spacingAndGlyphs">32</text>
<text class="s" x="465" y="200" textLength="18" lengthAdjust="spacingAndGlyphs">570</text>
<text class="b" x="17" y="227" textLength="77" lengthAdjust="spacingAndGlyphs">435.gromacs</text>
<text class="b" x="118" y="219" textLength="14" lengthAdjust="spacingAndGlyphs">32</text>
<text class="s" x="530" y="211" textLength="18" lengthAdjust="spacingAndGlyphs">666</text>
<text class="b" x="118" y="237" textLength="14" lengthAdjust="spacingAndGlyphs">32</text>
<text class="s" x="454" y="245" textLength="18" lengthAdjust="spacingAndGlyphs">537</text>
<text class="b" x="3" y="272" textLength="91" lengthAdjust="spacingAndGlyphs">436.cactusADM</text>
<text class="b" x="118" y="264" textLength="14" lengthAdjust="spacingAndGlyphs">32</text>
<text class="s" x="616" y="256" textLength="18" lengthAdjust="spacingAndGlyphs">811</text>
<text class="b" x="118" y="282" textLength="14" lengthAdjust="spacingAndGlyphs">32</text>
<text class="s" x="556" y="290" textLength="18" lengthAdjust="spacingAndGlyphs">710</text>
<text class="b" x="10" y="317" textLength="84" lengthAdjust="spacingAndGlyphs">437.leslie3d</text>
<text class="b" x="118" y="309" textLength="14" lengthAdjust="spacingAndGlyphs">32</text>
<text class="s" x="410" y="301" textLength="18" lengthAdjust="spacingAndGlyphs">462</text>
<text class="b" x="118" y="327" textLength="14" lengthAdjust="spacingAndGlyphs">32</text>
<text class="s" x="384" y="335" textLength="18" lengthAdjust="spacingAndGlyphs">418</text>
<text class="b" x="38" y="362" textLength="56" lengthAdjust="spacingAndGlyphs">444.namd</text>
<text class="b" x="118" y="354" textLength="14" lengthAdjust="spacingAndGlyphs">32</text>
<text class="s" x="443" y="346" textLength="18" lengthAdjust="spacingAndGlyphs">518</text>
<text class="b" x="118" y="372" textLength="14" lengthAdjust="spacingAndGlyphs">32</text>
<text class="s" x="393" y="380" textLength="18" lengthAdjust="spacingAndGlyphs">434</text>
<text class="b" x="24" y="407" textLength="70" lengthAdjust="spacingAndGlyphs">447.dealII</text>
<text class="b" x="118" y="399" textLength="14" lengthAdjust="spacingAndGlyphs">32</text>
<text class="s" x="768" y="391" textLength="24" lengthAdjust="spacingAndGlyphs">1070</text>
<text class="b" x="118" y="417" textLength="14" lengthAdjust="spacingAndGlyphs">32</text>
<text class="s" x="725" y="425" textLength="18" lengthAdjust="spacingAndGlyphs">997</text>
<text class="b" x="24" y="452" textLength="70" lengthAdjust="spacingAndGlyphs">450.soplex</text>
<text class="b" x="118" y="444" textLength="14" lengthAdjust="spacingAndGlyphs">32</text>
<text class="s" x="440" y="436" textLength="18" lengthAdjust="spacingAndGlyphs">514</text>
<text class="b" x="118" y="462" textLength="14" lengthAdjust="spacingAndGlyphs">32</text>
<text class="s" x="421" y="470" textLength="18" lengthAdjust="spacingAndGlyphs">481</text>
<text class="b" x="24" y="497" textLength="70" lengthAdjust="spacingAndGlyphs">453.povray</text>
<text class="b" x="118" y="489" textLength="14" lengthAdjust="spacingAndGlyphs">32</text>
<text class="s" x="540" y="481" textLength="18" lengthAdjust="spacingAndGlyphs">683</text>
<text class="b" x="118" y="507" textLength="14" lengthAdjust="spacingAndGlyphs">32</text>
<text class="s" x="489" y="515" textLength="18" lengthAdjust="spacingAndGlyphs">592</text>
<text class="b" x="10" y="542" textLength="84" lengthAdjust="spacingAndGlyphs">454.calculix</text>
<text class="b" x="118" y="534" textLength="14" lengthAdjust="spacingAndGlyphs">32</text>
<text class="s" x="664" y="526" textLength="18" lengthAdjust="spacingAndGlyphs">893</text>
<text class="b" x="118" y="552" textLength="14" lengthAdjust="spacingAndGlyphs">32</text>
<text class="s" x="643" y="560" textLength="18" lengthAdjust="spacingAndGlyphs">858</text>
<text class="b" x="10" y="587" textLength="84" lengthAdjust="spacingAndGlyphs">459.GemsFDTD</text>
<text class="b" x="118" y="579" textLength="14" lengthAdjust="spacingAndGlyphs">32</text>
<text class="s" x="394" y="571" textLength="18" lengthAdjust="spacingAndGlyphs">435</text>
<text class="b" x="118" y="597" textLength="14" lengthAdjust="spacingAndGlyphs">32</text>
<text class="s" x="380" y="605" textLength="18" lengthAdjust="spacingAndGlyphs">413</text>
<text class="b" x="31" y="632" textLength="63" lengthAdjust="spacingAndGlyphs">465.tonto</text>
<text class="b" x="118" y="624" textLength="14" lengthAdjust="spacingAndGlyphs">32</text>
<text class="s" x="490" y="616" textLength="18" lengthAdjust="spacingAndGlyphs">598</text>
<text class="b" x="118" y="642" textLength="14" lengthAdjust="spacingAndGlyphs">32</text>
<text class="s" x="457" y="650" textLength="18" lengthAdjust="spacingAndGlyphs">542</text>
<text class="b" x="45" y="677" textLength="49" lengthAdjust="spacingAndGlyphs">470.lbm</text>
<text class="b" x="118" y="678" textLength="14" lengthAdjust="spacingAndGlyphs">32</text>
<text class="s" x="582" y="666" textLength="18" lengthAdjust="spacingAndGlyphs">754</text>
<text class="b" x="45" y="722" textLength="49" lengthAdjust="spacingAndGlyphs">481.wrf</text>
<text class="b" x="118" y="714" textLength="14" lengthAdjust="spacingAndGlyphs">32</text>
<text class="s" x="531" y="706" textLength="18" lengthAdjust="spacingAndGlyphs">667</text>
<text class="b" x="118" y="732" textLength="14" lengthAdjust="spacingAndGlyphs">32</text>
<text class="s" x="524" y="740" textLength="18" lengthAdjust="spacingAndGlyphs">656</text>
<text class="b" x="17" y="767" textLength="77" lengthAdjust="spacingAndGlyphs">482.sphinx3</text>
<text class="b" x="118" y="759" textLength="14" lengthAdjust="spacingAndGlyphs">32</text>
<text class="s" x="543" y="751" textLength="18" lengthAdjust="spacingAndGlyphs">687</text>
<text class="b" x="118" y="777" textLength="14" lengthAdjust="spacingAndGlyphs">32</text>
<text class="s" x="465" y="785" textLength="18" lengthAdjust="spacingAndGlyphs">567</text>
<text class="b" x="335" y="799" textLength="182" lengthAdjust="spacingAndGlyphs">SPECfp_rate_base2006 = 576</text>
<text class="b" x="447" y="821" textLength="147" lengthAdjust="spacingAndGlyphs">SPECfp_rate2006 = 634</text>
</g>
</svg>
</body>
</html>
